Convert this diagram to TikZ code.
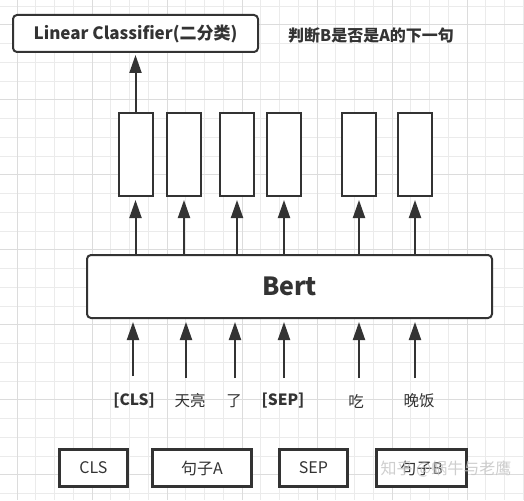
\documentclass[tikz,border=0pt]{standalone}
\usepackage{fontspec}
\setmainfont{Noto Sans CJK SC}
\usetikzlibrary{arrows.meta}
\definecolor{ink}{HTML}{333333}
\definecolor{gridminor}{HTML}{EBEBEB}
\definecolor{gridmajor}{HTML}{DCDCDC}
\tikzset{
  outbox/.style={draw=ink, line width=2pt, fill=white, minimum width=34pt, minimum height=83pt, inner sep=0pt},
  bigbox/.style={draw=ink, line width=2pt, fill=white, rounded corners=4pt, inner sep=0pt},
  segbox/.style={draw=ink, line width=3pt, fill=white, minimum height=37pt, inner sep=0pt, font=\fontsize{16}{16}\selectfont, text=ink},
  arr/.style={draw=ink, line width=2pt, -{Triangle[length=18pt,width=12pt]}},
  lab/.style={text=ink, font=\fontsize{15.5}{16}\selectfont, inner sep=0pt},
}
\begin{document}
\begin{tikzpicture}[x=1pt,y=-1pt]
\useasboundingbox (0,0) rectangle (524,500);
\fill[white] (0,0) rectangle (524,500);
% grid
\foreach \k in {0,...,27}{
  \draw[gridminor, line width=0.8pt] ({17+18.75*\k},0) -- ({17+18.75*\k},500);
}
\foreach \k in {0,...,26}{
  \draw[gridminor, line width=0.8pt] (0,{6+18.75*\k}) -- (524,{6+18.75*\k});
}
\foreach \k in {0,...,6}{
  \draw[gridmajor, line width=0.8pt] ({17+75*\k},0) -- ({17+75*\k},500);
}
\foreach \k in {0,...,6}{
  \draw[gridmajor, line width=0.8pt] (0,{24.75+75*\k}) -- (524,{24.75+75*\k});
}

% classifier
\node[bigbox, minimum width=245pt, minimum height=37pt, font=\bfseries\fontsize{17}{17}\selectfont, text=ink] (cls) at (135.5,33.5) {Linear Classifier(二分类)};
\node[text=ink, font=\bfseries\fontsize{16}{16}\selectfont, inner sep=0pt] (note) at (371,35) {判断B是否是A的下一句};

% output boxes
\node[outbox] (o1) at (135.5,154.5) {};
\node[outbox] (o2) at (184,154.5) {};
\node[outbox] (o3) at (237,154.5) {};
\node[outbox] (o4) at (284,154.5) {};
\node[outbox] (o5) at (359,154.5) {};
\node[outbox] (o6) at (415,154.5) {};

% bert
\node[bigbox, minimum width=405pt, minimum height=63pt, font=\bfseries\fontsize{25}{25}\selectfont, text=ink] (bert) at (289.5,286.5) {Bert};

% arrows bert -> boxes
\foreach \i in {1,...,6}{
  \draw[arr, shorten >=3pt] (o\i.south |- bert.north) -- (o\i.south);
}
% arrow box1 -> classifier
\draw[arr, shorten >=2pt] (o1.north) -- (o1.north |- cls.south);

% input labels
\node[lab, font=\bfseries\fontsize{15.5}{16}\selectfont] (l1) at (134,401) {[CLS]};
\node[lab] (l2) at (190,401) {天亮};
\node[lab] (l3) at (234,401) {了};
\node[lab, font=\bfseries\fontsize{15.5}{16}\selectfont] (l4) at (283,401) {[SEP]};
\node[lab] (l5) at (356,401) {吃};
\node[lab] (l6) at (419,401) {晚饭};

\coordinate (i1) at (133,376);
\coordinate (i2) at (186,378);
\coordinate (i3) at (235,378);
\coordinate (i4) at (284,378);
\coordinate (i5) at (359,378);
\coordinate (i6) at (415,378);
\foreach \i in {1,...,6}{
  \draw[arr, shorten >=3pt] (i\i) -- (i\i |- bert.south);
}

% segment boxes
\node[segbox, minimum width=68pt] (s1) at (93.5,468) {CLS};
\node[segbox, minimum width=99pt] (s2) at (202,468) {句子A};
\node[segbox, minimum width=68pt] (s3) at (313.5,468) {SEP};
\node[segbox, minimum width=90pt] (s4) at (421.5,468) {句子B};

% watermark
\node[text=gray!45, opacity=0.85, font=\fontsize{16}{16}\selectfont, inner sep=0pt] (wm) at (446,469) {知乎 @蜗牛与老鹰};
\end{tikzpicture}
\end{document}
